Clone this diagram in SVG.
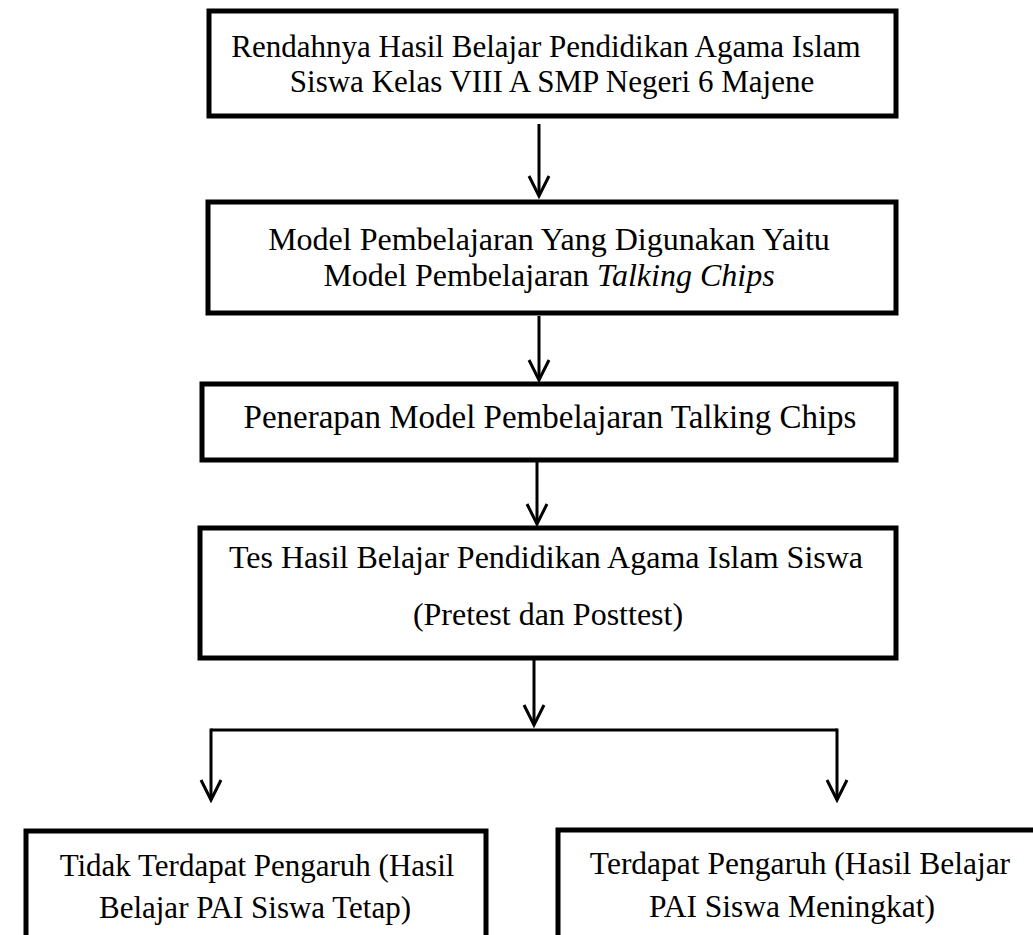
<svg xmlns="http://www.w3.org/2000/svg" width="1033" height="935" viewBox="0 0 1033 935">
<defs>
<style>
.box{fill:#fff;stroke:#000;stroke-width:5}
.t{font-family:"Liberation Serif","Times New Roman",serif;font-size:31px;fill:#000;text-anchor:middle}
.c{fill:none;stroke:#000;stroke-width:3}
</style>
<marker id="ah" viewBox="0 0 24 24" refX="21" refY="12" markerWidth="24" markerHeight="24" markerUnits="userSpaceOnUse" orient="auto">
<path d="M1,2 L21,12 L1,22" fill="none" stroke="#000" stroke-width="3"/>
</marker>
</defs>
<rect width="1033" height="935" fill="#fff"/>
<g id="n1"><rect class="box" x="209" y="11" width="687" height="105"/>
<text class="t" x="546" y="57">Rendahnya Hasil Belajar Pendidikan Agama Islam</text>
<text class="t" x="552" y="92">Siswa Kelas VIII A SMP Negeri 6 Majene</text></g>
<g id="n2"><rect class="box" x="208" y="202" width="688" height="111"/>
<text class="t" x="549" y="250" style="font-size:32px">Model Pembelajaran Yang Digunakan Yaitu</text>
<text class="t" x="549" y="286" style="font-size:32px">Model Pembelajaran <tspan font-style="italic">Talking Chips</tspan></text></g>
<g id="n3"><rect class="box" x="202" y="384" width="694" height="76"/>
<text class="t" x="550" y="428" style="font-size:33px">Penerapan Model Pembelajaran Talking Chips</text></g>
<g id="n4"><rect class="box" x="200" y="528" width="696" height="130"/>
<text class="t" x="546" y="568" style="font-size:32px">Tes Hasil Belajar Pendidikan Agama Islam Siswa</text>
<text class="t" x="548" y="625" style="font-size:32px">(Pretest dan Posttest)</text></g>
<g id="n5"><rect class="box" x="26" y="831" width="460" height="130"/>
<text class="t" x="257" y="876">Tidak Terdapat Pengaruh (Hasil</text>
<text class="t" x="255" y="918">Belajar PAI Siswa Tetap)</text></g>
<g id="n6"><rect class="box" x="558" y="830" width="500" height="130"/>
<text class="t" x="800" y="874" style="font-size:31.5px">Terdapat Pengaruh (Hasil Belajar</text>
<text class="t" x="792" y="917" style="font-size:31.5px">PAI Siswa Meningkat)</text></g>
<g id="connectors">
<line class="c" x1="539" y1="124" x2="539" y2="196" marker-end="url(#ah)"/>
<line class="c" x1="539" y1="316" x2="539" y2="380" marker-end="url(#ah)"/>
<line class="c" x1="537" y1="462" x2="537" y2="524" marker-end="url(#ah)"/>
<line class="c" x1="534" y1="660" x2="534" y2="725" marker-end="url(#ah)"/>
<polyline class="c" points="211,730 837,730"/>
<line class="c" x1="211" y1="728.5" x2="211" y2="800" marker-end="url(#ah)"/>
<line class="c" x1="837" y1="728.5" x2="837" y2="800" marker-end="url(#ah)"/>
</g>
</svg>
